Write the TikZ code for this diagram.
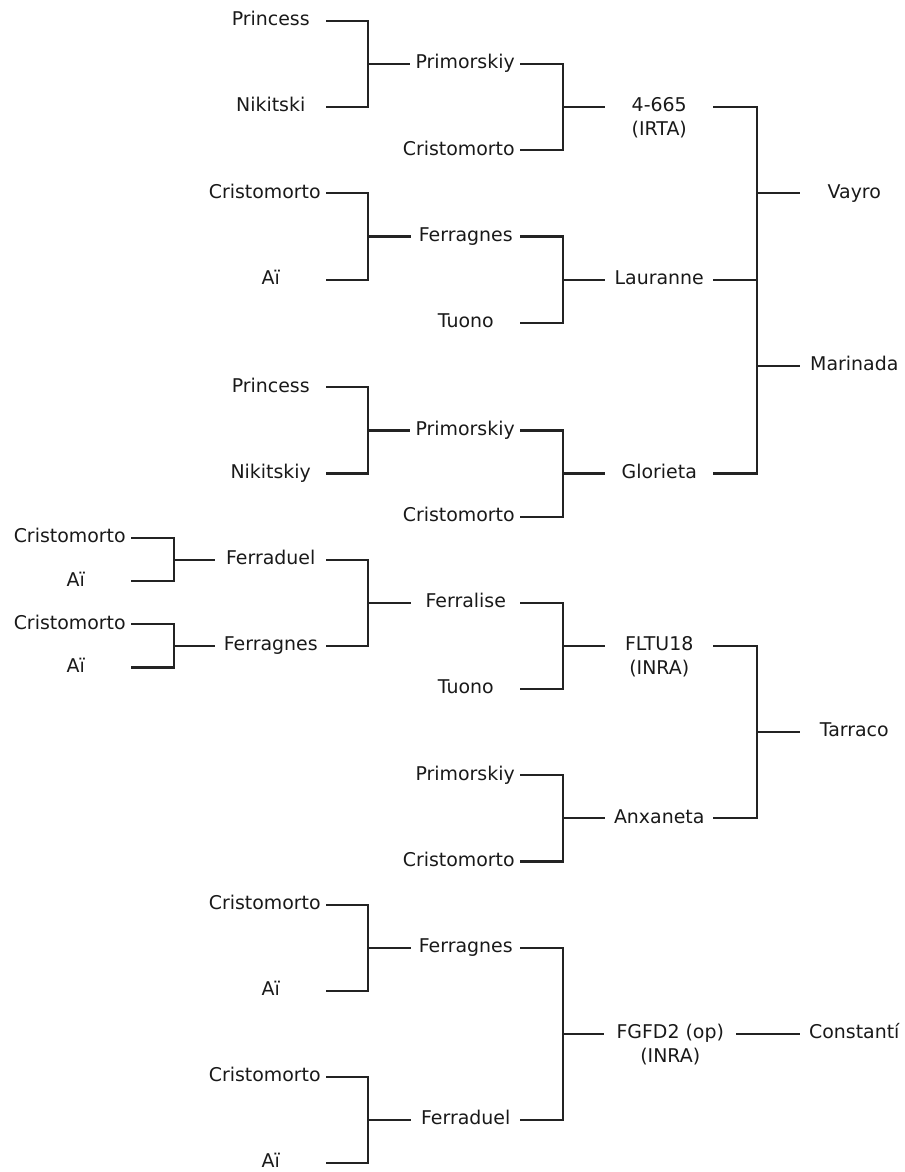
\documentclass[tikz,border=0pt]{standalone}
\usepackage{fontspec}
\setmainfont{DejaVu Sans}
\usepackage{tikz}
\usetikzlibrary{positioning, calc}
\usepackage{xcolor}
\definecolor{inkgray}{RGB}{25, 25, 25}
\definecolor{linegray}{RGB}{35, 35, 35}

\begin{document}
\begin{tikzpicture}[
    x=0.75pt, y=-32.325pt,
    cv/.style={font=\fontsize{14.2pt}{17pt}\selectfont, text=inkgray,
               inner xsep=3.75pt, inner ysep=0pt,
               text height=10.5pt, text depth=3.4pt},
    gen0/.style={cv, anchor=east, minimum width=82.5pt},
    gen1/.style={cv, anchor=east, minimum width=82.5pt},
    gen2/.style={cv, anchor=east, minimum width=81pt},
    gen3/.style={cv, anchor=east, minimum width=80.25pt},
    gen4/.style={cv, anchor=west, minimum width=81pt},
    origin/.style={cv, name=#1, label distance=3.4pt},
    link/.style={draw=linegray, line width=1.6pt},
  ]
    \useasboundingbox (0,-0.487) rectangle (904,26.705);

    % Vayro / Marinada
    \node[gen1] (pri1) at (326,0) {Princess};
    \node[gen1] (nik1) at (326,2) {Nikitski};
    \node[gen2] (pmk1) at (520,1) {Primorskiy};
    \node[gen2] (cri1) at (520,3) {Cristomorto};
    \node[gen3, label={[origin=irtalbl]below:(IRTA)}] (irta) at (713,2) {4-665};

    \node[gen1] (cri2) at (326,4) {Cristomorto};
    \node[gen1] (ai2) at (326,6) {Aï};
    \node[gen2] (fgn2) at (520,5) {Ferragnes};
    \node[gen2] (tuo2) at (520,7) {Tuono};
    \node[gen3] (laur) at (713,6) {Lauranne};

    \node[gen1] (pri3) at (326,8.5) {Princess};
    \node[gen1] (nik3) at (326,10.5) {Nikitskiy};
    \node[gen2] (pmk3) at (520,9.5) {Primorskiy};
    \node[gen2] (cri3) at (520,11.5) {Cristomorto};
    \node[gen3] (glor) at (713,10.5) {Glorieta};

    \node[gen4] (vayro) at (800,4) {Vayro};
    \node[gen4] (mari) at (800,8) {Marinada};

    % Tarraco
    \node[gen0] (cri4a) at (131,12) {Cristomorto};
    \node[gen0] (ai4a) at (131,13) {Aï};
    \node[gen0] (cri4b) at (131,14) {Cristomorto};
    \node[gen0] (ai4b) at (131,15) {Aï};
    \node[gen1] (fdl4) at (326,12.5) {Ferraduel};
    \node[gen1] (fgn4) at (326,14.5) {Ferragnes};
    \node[gen2] (fls4) at (520,13.5) {Ferralise};
    \node[gen2] (tuo4) at (520,15.5) {Tuono};
    \node[gen3, label={[origin=inralbl]below:(INRA)}] (fltu) at (713,14.5) {FLTU18};
    \node[gen2] (pmk4) at (520,17.5) {Primorskiy};
    \node[gen2] (cri4c) at (520,19.5) {Cristomorto};
    \node[gen3] (anx) at (713,18.5) {Anxaneta};
    \node[gen4] (tarr) at (800,16.5) {Tarraco};

    % Constantí
    \node[gen1] (cri5a) at (326,20.5) {Cristomorto};
    \node[gen1] (ai5a) at (326,22.5) {Aï};
    \node[gen2] (fgn5) at (520,21.5) {Ferragnes};
    \node[gen1] (cri5b) at (326,24.5) {Cristomorto};
    \node[gen1] (ai5b) at (326,26.5) {Aï};
    \node[gen2] (fdl5) at (520,25.5) {Ferraduel};
    \node[cv, anchor=east, minimum width=98.25pt,
          label={[origin=fgfdlbl]below:(INRA)}] (fgfd) at (736,23.5) {FGFD2 (op)};
    \node[gen4] (cons) at (800,23.5) {Constantí};

    % Junctions
    \coordinate (j1) at (368,1);
    \coordinate (j2) at (563,2);
    \coordinate (j3a) at (757,4);
    \coordinate (j3l) at (757,6);
    \coordinate (j3b) at (757,8);
    \coordinate (j4) at (368,5);
    \coordinate (j5) at (563,6);
    \coordinate (j6) at (368,9.5);
    \coordinate (j7) at (563,10.5);
    \coordinate (j8) at (174,12.5);
    \coordinate (j9) at (174,14.5);
    \coordinate (j10) at (368,13.5);
    \coordinate (j11) at (563,14.5);
    \coordinate (j12) at (563,18.5);
    \coordinate (j13) at (757,16.5);
    \coordinate (j14) at (368,21.5);
    \coordinate (j15) at (368,25.5);
    \coordinate (j16) at (563,23.5);

    % Links
    \draw[link] (pri1.east) -| (j1) |- (nik1.east);
    \draw[link] (j1) -- (pmk1.west);
    \draw[link] (pmk1.east) -| (j2) |- (cri1.east);
    \draw[link] (j2) -- (irta.west);

    \draw[link] (cri2.east) -| (j4) |- (ai2.east);
    \draw[link] (j4) -- (fgn2.west);
    \draw[link] (fgn2.east) -| (j5) |- (tuo2.east);
    \draw[link] (j5) -- (laur.west);

    \draw[link] (pri3.east) -| (j6) |- (nik3.east);
    \draw[link] (j6) -- (pmk3.west);
    \draw[link] (pmk3.east) -| (j7) |- (cri3.east);
    \draw[link] (j7) -- (glor.west);

    \draw[link] (irta.east) -| (j3a) -- (j3b) |- (glor.east);
    \draw[link] (laur.east) -- (j3l);
    \draw[link] (j3a) -- (vayro.west);
    \draw[link] (j3b) -- (mari.west);

    \draw[link] (cri4a.east) -| (j8) |- (ai4a.east);
    \draw[link] (j8) -- (fdl4.west);
    \draw[link] (cri4b.east) -| (j9) |- (ai4b.east);
    \draw[link] (j9) -- (fgn4.west);
    \draw[link] (fdl4.east) -| (j10) |- (fgn4.east);
    \draw[link] (j10) -- (fls4.west);
    \draw[link] (fls4.east) -| (j11) |- (tuo4.east);
    \draw[link] (j11) -- (fltu.west);
    \draw[link] (pmk4.east) -| (j12) |- (cri4c.east);
    \draw[link] (j12) -- (anx.west);
    \draw[link] (fltu.east) -| (j13) |- (anx.east);
    \draw[link] (j13) -- (tarr.west);

    \draw[link] (cri5a.east) -| (j14) |- (ai5a.east);
    \draw[link] (j14) -- (fgn5.west);
    \draw[link] (cri5b.east) -| (j15) |- (ai5b.east);
    \draw[link] (j15) -- (fdl5.west);
    \draw[link] (fgn5.east) -| (j16) |- (fdl5.east);
    \draw[link] (j16) -- (fgfd.west);
    \draw[link] (fgfd.east) -- (cons.west);
  \end{tikzpicture}
\end{document}
